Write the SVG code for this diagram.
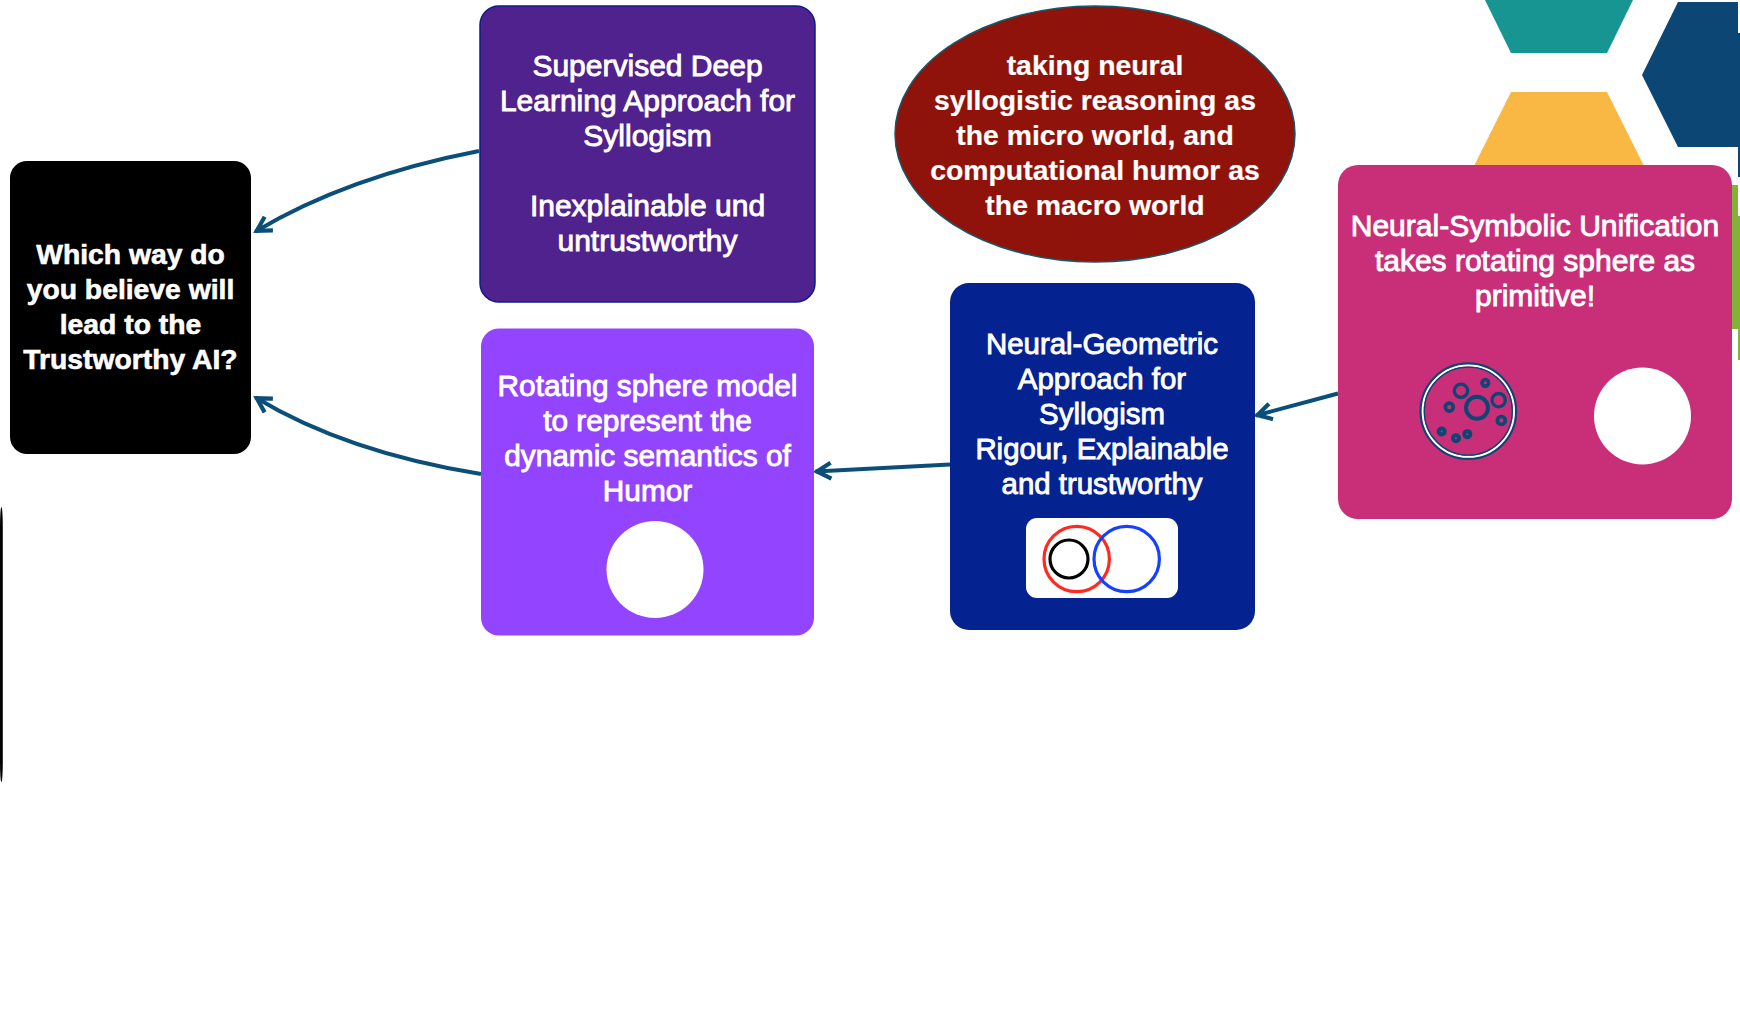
<svg xmlns="http://www.w3.org/2000/svg" width="1740" height="1016" viewBox="0 0 1740 1016">
<style>
text{font-family:"Liberation Sans",Arial,sans-serif;font-size:29.800px;fill:#fff;text-anchor:middle;font-weight:400;stroke:#fff;stroke-width:.9px}
.b{font-weight:700;stroke-width:.6px;font-size:28.300px}
.e{font-weight:700;stroke-width:.2px;font-size:28.400px}
.s{font-size:30px}
.g{font-size:29.400px}
.c{fill:none;stroke:#0b4f79;stroke-width:3.900;marker-end:url(#ah)}
.r{fill:none;stroke:#0b4674}
</style>
<defs>
<marker id="ah" markerUnits="userSpaceOnUse" markerWidth="30" markerHeight="30" refX="21" refY="15" orient="auto" viewBox="0 0 30 30">
<path d="M5.500 7L19.500 15L5.500 23" fill="none" stroke="#0b4f79" stroke-width="4.200"/>
</marker>
</defs>
<rect width="1740" height="1016" fill="#fff"/>
<g id="decor">
<polygon points="1485,0 1633,0 1607,53 1511,53" fill="#169592"/>
<polygon points="1511,92 1607,92 1646,170 1472,170" fill="#f8b843"/>
<polygon points="1642,75 1678,2 1738,2 1738,147 1678,147" fill="#0b4674"/>
<rect x="1738" y="33" width="2" height="144" fill="#0b4674"/>
<rect x="1700" y="185" width="38" height="144" fill="#83b336"/>
<rect x="1738" y="216" width="2" height="144" fill="#83b336"/>
<rect x="0" y="507" width="2.800" height="275" rx="1.400" ry="20" fill="#000"/>
</g>
<g id="connectors">
<path class="c" d="M479 151Q347.500 176.500 255.500 231.500"/>
<path class="c" d="M481 474Q346.500 452.500 255.500 397.500"/>
<path class="c" d="M950 464.500L815.500 471.500"/>
<path class="c" d="M1338 393.500L1256 415.500"/>
</g>
<g id="node-question">
<rect x="10" y="161" width="241" height="293" rx="17" fill="#000"/>
<text class="b" x="130.500" y="264">Which way do</text>
<text class="b" x="130.500" y="299">you believe will</text>
<text class="b" x="130.500" y="334">lead to the</text>
<text class="b" x="130.500" y="369">Trustworthy AI?</text>
</g>
<g id="node-supervised">
<rect x="480" y="6" width="335" height="296" rx="19" fill="#4f228d" stroke="#0b1c8c" stroke-width="1.500"/>
<text class="s" x="647.500" y="75.500">Supervised Deep</text>
<text class="s" x="647.500" y="110.500">Learning Approach for</text>
<text class="s" x="647.500" y="145.500">Syllogism</text>
<text class="s" x="647.500" y="215.500">Inexplainable und</text>
<text class="s" x="647.500" y="251">untrustworthy</text>
</g>
<g id="node-rotating">
<rect x="481" y="328.500" width="333" height="307" rx="18" fill="#9344ff"/>
<text x="647.500" y="396">Rotating sphere model</text>
<text x="647.500" y="431">to represent the</text>
<text x="647.500" y="466">dynamic semantics of</text>
<text x="647.500" y="501">Humor</text>
<circle cx="655" cy="569.500" r="48.500" fill="#fff"/>
</g>
<g id="node-micro-macro">
<ellipse cx="1095" cy="134" rx="200" ry="128" fill="#8f130a" stroke="#14596b" stroke-width="1.500"/>
<text class="e" x="1095" y="75">taking neural</text>
<text class="e" x="1095" y="110">syllogistic reasoning as</text>
<text class="e" x="1095" y="145">the micro world, and</text>
<text class="e" x="1095" y="180">computational humor as</text>
<text class="e" x="1095" y="215">the macro world</text>
</g>
<g id="node-geometric">
<rect x="950" y="283" width="305" height="347" rx="19" fill="#052291"/>
<text class="g" x="1102" y="354">Neural-Geometric</text>
<text class="g" x="1102" y="389">Approach for</text>
<text class="g" x="1102" y="424">Syllogism</text>
<text class="g" x="1102" y="459">Rigour, Explainable</text>
<text class="g" x="1102" y="494">and trustworthy</text>
<rect x="1026" y="518" width="152" height="80" rx="11" fill="#fff"/>
<circle cx="1076.700" cy="559" r="32.700" fill="none" stroke="#ff2a1f" stroke-width="3.200"/>
<circle cx="1069" cy="559" r="19" fill="none" stroke="#000" stroke-width="3.200"/>
<circle cx="1126.700" cy="559" r="32.700" fill="none" stroke="#1440ff" stroke-width="3.200"/>
</g>
<g id="node-unification">
<rect x="1338" y="165" width="394" height="354" rx="20" fill="#c92f78"/>
<text class="s" x="1535" y="236">Neural-Symbolic Unification</text>
<text class="s" x="1535" y="271">takes rotating sphere as</text>
<text class="s" x="1535" y="306">primitive!</text>
<g transform="translate(1410 355.500) scale(.3333)">
<circle class="r" cx="175" cy="167" r="143" stroke-width="7"/>
<circle cx="175" cy="167" r="137" fill="none" stroke="#fff" stroke-width="6"/>
<circle class="r" cx="175" cy="167" r="132" stroke-width="4"/>
<circle class="r" cx="201" cy="157" r="33" stroke-width="12"/>
<circle class="r" cx="153" cy="106" r="20" stroke-width="10"/>
<circle class="r" cx="266" cy="134" r="20" stroke-width="10"/>
<circle class="r" cx="226" cy="82" r="10" stroke-width="11"/>
<circle class="r" cx="118" cy="155" r="12" stroke-width="11"/>
<circle class="r" cx="274" cy="195" r="12" stroke-width="11"/>
<circle class="r" cx="95" cy="228" r="9" stroke-width="12"/>
<circle class="r" cx="138" cy="248" r="9" stroke-width="12"/>
<circle class="r" cx="172" cy="236" r="9" stroke-width="12"/>
</g>
<circle cx="1642.500" cy="416" r="48.500" fill="#fff"/>
</g>
</svg>
